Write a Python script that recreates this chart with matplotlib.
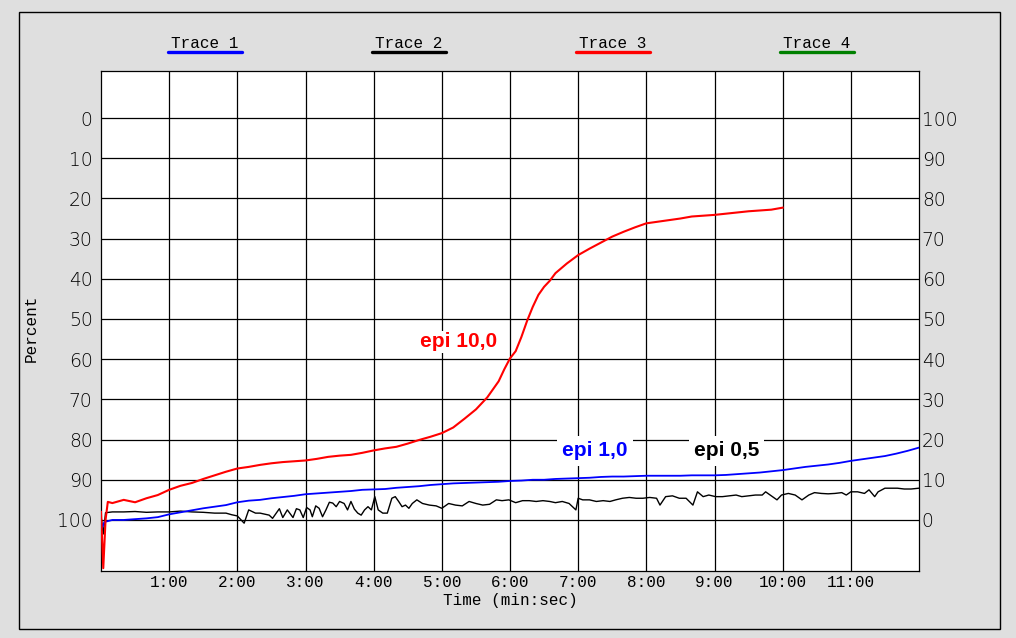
import matplotlib.pyplot as plt
from matplotlib.lines import Line2D
from matplotlib.patches import Rectangle

# ---- data (time in seconds, value on the left "Percent" scale) ----
red_t = [0, 2, 4, 6, 10, 20, 30, 40, 50, 60, 70, 80, 90, 100, 110, 120, 130, 140,
         150, 160, 170, 180, 190, 200, 210, 220, 230, 240, 250, 260, 270, 280, 290,
         300, 310, 320, 330, 340, 350, 355, 360, 365, 370, 375, 380, 385, 390, 395,
         400, 410, 420, 430, 440, 450, 460, 470, 480, 490, 500, 510, 520, 530, 540,
         550, 560, 570, 580, 590, 600]
red_v = [98.0, 112.0, 100.0, 95.5, 95.8, 95.0, 95.6, 94.6, 93.8, 92.5, 91.5, 90.8, 89.8,
         88.9, 88.0, 87.2, 86.8, 86.3, 85.9, 85.6, 85.4, 85.2, 84.8, 84.3, 84.0, 83.8,
         83.3, 82.7, 82.2, 81.8, 81.0, 80.1, 79.3, 78.4, 77.0, 74.8, 72.5, 69.5, 65.5,
         62.5, 59.8, 58.0, 54.5, 50.5, 47.0, 44.0, 42.0, 40.5, 38.6, 36.2, 34.1, 32.5,
         31.0, 29.5, 28.3, 27.2, 26.2, 25.8, 25.4, 25.0, 24.5, 24.3, 24.1, 23.8, 23.5,
         23.2, 23.0, 22.8, 22.3]

blue_t = [0, 3, 10, 20, 30, 40, 50, 60, 70, 80, 90, 100, 110, 120, 130, 140, 150, 160,
          170, 180, 190, 200, 210, 220, 230, 240, 250, 260, 270, 280, 290, 300, 310, 320,
          330, 340, 350, 360, 370, 380, 390, 400, 410, 420, 430, 440, 450, 460, 470, 480,
          490, 500, 510, 520, 530, 540, 550, 560, 570, 580, 590, 600, 610, 620, 630, 640,
          650, 660, 670, 680, 690, 700, 710, 720]
blue_v = [102.5, 100.5, 100.0, 100.0, 99.8, 99.6, 99.3, 98.6, 98.1, 97.6, 97.1, 96.7,
          96.3, 95.6, 95.2, 95.0, 94.6, 94.3, 94.0, 93.6, 93.4, 93.2, 93.0, 92.8, 92.5,
          92.4, 92.3, 92.0, 91.8, 91.6, 91.3, 91.1, 90.9, 90.8, 90.7, 90.6, 90.5, 90.3,
          90.2, 90.0, 90.0, 89.8, 89.7, 89.6, 89.5, 89.3, 89.2, 89.2, 89.1, 89.0, 89.0,
          89.0, 89.0, 88.9, 88.9, 88.9, 88.8, 88.6, 88.4, 88.2, 87.9, 87.6, 87.2, 86.8,
          86.5, 86.2, 85.8, 85.3, 84.9, 84.5, 84.1, 83.5, 82.8, 82.0]

black_t = [0, 2, 4, 10, 20, 30, 40, 50, 60, 70, 80, 90, 100, 110, 115, 120, 126, 130,
           136, 140, 148, 151, 157, 160, 164, 169, 172, 175, 178, 181, 184, 186, 189,
           192, 195, 198, 201, 204, 207, 210, 214, 217, 220, 223, 226, 229, 232, 235,
           238, 241, 244, 248, 252, 256, 259, 262, 265, 268, 271, 274, 278, 283, 289,
           295, 300, 306, 312, 318, 324, 330, 336, 342, 348, 353, 359, 365, 371, 377,
           383, 389, 395, 400, 406, 412, 418, 420, 424, 430, 436, 442, 448, 453, 459,
           465, 471, 477, 483, 489, 492, 497, 503, 509, 515, 521, 525, 530, 535, 541,
           547, 553, 559, 564, 570, 576, 582, 585, 591, 595, 599, 605, 611, 617, 623,
           628, 634, 640, 646, 652, 656, 660, 666, 672, 676, 681, 684, 690, 695, 701,
           707, 713, 720]
black_v = [99.0, 103.5, 98.2, 98.0, 98.0, 97.9, 98.1, 98.0, 98.0, 97.8, 98.0, 98.1,
           98.3, 98.3, 98.7, 99.0, 100.8, 97.5, 98.3, 98.3, 98.8, 99.6, 97.2, 99.4, 97.5,
           99.4, 97.2, 97.5, 99.4, 96.9, 97.5, 99.2, 96.5, 97.1, 99.2, 97.5, 95.6, 95.8,
           96.7, 95.4, 95.9, 97.5, 95.4, 97.3, 98.3, 98.8, 97.5, 96.7, 97.5, 94.2, 97.5,
           98.3, 98.3, 94.6, 94.2, 95.4, 96.7, 96.3, 97.1, 95.9, 95.0, 95.9, 96.3, 96.5,
           97.1, 95.9, 96.3, 96.5, 95.4, 95.9, 96.3, 96.1, 95.0, 95.2, 95.0, 95.7, 95.2,
           95.2, 95.4, 95.2, 95.4, 95.7, 95.4, 95.9, 97.5, 94.6, 95.0, 95.0, 95.4, 95.2,
           95.4, 95.0, 94.6, 94.4, 94.6, 94.6, 94.4, 94.6, 96.3, 94.2, 94.0, 94.6, 94.6,
           96.3, 93.0, 94.2, 93.8, 94.2, 94.2, 94.0, 93.8, 94.2, 94.0, 93.8, 93.8, 93.0,
           94.2, 95.0, 93.8, 93.4, 93.8, 95.0, 93.8, 93.2, 93.4, 93.5, 93.4, 93.2, 93.8,
           93.0, 93.0, 93.4, 92.5, 94.2, 93.0, 92.1, 92.1, 92.1, 92.3, 92.3, 92.1]

minutes = list(range(1, 12))
tick_labels = ["%d:00" % m for m in minutes]
left_ticks = list(range(0, 101, 10))
right_labels = [str(100 - v) for v in left_ticks]

legend_names = ["Trace 1", "Trace 2", "Trace 3", "Trace 4"]
legend_colors = ["#0000ff", "black", "#ff0000", "#008000"]

MONO = "Liberation Mono"
W, H = 1016, 638

fig = plt.figure(figsize=(W / 100, H / 100), dpi=100, facecolor="#dfdfdf")

# outer frame
fig.patches.append(Rectangle((19 / W, 1 - 629 / H), 981 / W, 617 / H,
                             transform=fig.transFigure, fill=False,
                             ec="black", lw=1.0))

ax = fig.add_axes([101 / W, 1 - 571 / H, 818 / W, 500 / H])
ax.set_facecolor("white")

ax.plot(black_t, black_v, color="black", lw=1.0, zorder=3)
ax.plot(blue_t, blue_v, color="#0000ff", lw=1.3, zorder=4)
ax.plot(red_t, red_v, color="#ff0000", lw=1.5, zorder=5)

ax.set_xlim(0, 720)
ax.set_ylim(112.7, -11.7)
ax.set_xticks([m * 60 for m in minutes])
ax.set_xticklabels(tick_labels, family=MONO, fontsize=11.5)
ax.set_yticks(left_ticks)
ax.set_yticklabels([str(v) for v in left_ticks], family="DejaVu Sans",
                   fontweight="light", fontsize=13.5)
ax.tick_params(length=0)
ax.tick_params(axis="y", pad=6)
ax.tick_params(axis="x", pad=3)
ax.grid(True, color="black", lw=0.9)
ax.set_axisbelow(True)
for s in ax.spines.values():
    s.set_linewidth(0.9)

ax.set_xlabel("Time (min:sec)", family=MONO, fontsize=11.5, labelpad=2)

ax2 = ax.twinx()
ax2.set_ylim(100 - 112.7, 100 + 11.7)
ax2.set_yticks(left_ticks)
ax2.set_yticklabels(right_labels[::-1], family="DejaVu Sans",
                    fontweight="light", fontsize=13.5)
ax2.tick_params(length=0, pad=2)
for s in ax2.spines.values():
    s.set_visible(False)

fig.text(31 / W, 1 - 328 / H, "Percent", family=MONO, fontsize=11.5,
         rotation=90, ha="center", va="center")

# legend header
for i, (name, col) in enumerate(zip(legend_names, legend_colors)):
    cx = 204.5 + i * 204
    fig.text(cx / W, 1 - 43 / H, name, family=MONO, fontsize=11.5,
             ha="center", va="center")
    fig.add_artist(Line2D([(cx - 37) / W, (cx + 37) / W], [1 - 52 / H, 1 - 52 / H],
                          transform=fig.transFigure, color=col, lw=2.4,
                          solid_capstyle="round"))

# annotations
ax.text(315, 55.7, "epi 10,0", color="#ff0000", fontsize=15, fontweight="bold",
        family="Liberation Sans", ha="center", va="center", zorder=6,
        bbox=dict(boxstyle="square,pad=0.08", fc="white", ec="none"))
ax.text(435, 82.8, "epi 1,0", color="#0000ff", fontsize=15, fontweight="bold",
        family="Liberation Sans", ha="center", va="center", zorder=6,
        bbox=dict(boxstyle="square,pad=0.25", fc="white", ec="none"))
ax.text(550.6, 82.8, "epi 0,5", color="black", fontsize=15, fontweight="bold",
        family="Liberation Sans", ha="center", va="center", zorder=6,
        bbox=dict(boxstyle="square,pad=0.25", fc="white", ec="none"))

fig.savefig("out.png", dpi=100, facecolor=fig.get_facecolor())
